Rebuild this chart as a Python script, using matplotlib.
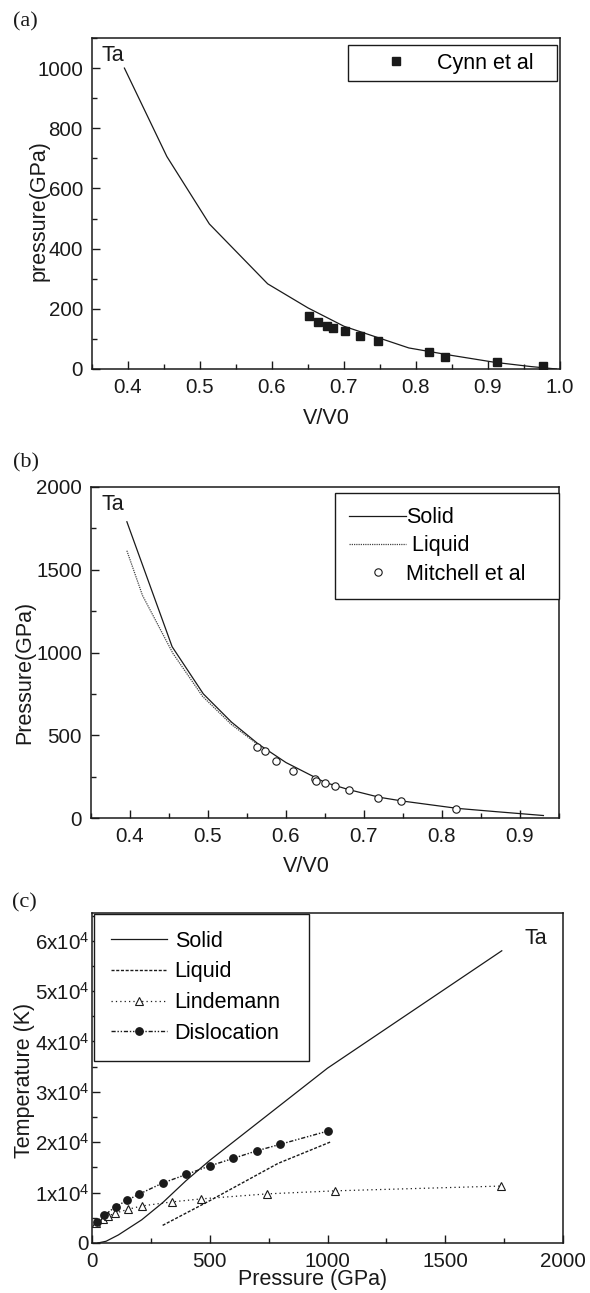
import matplotlib
matplotlib.use('Agg')
import matplotlib.pyplot as plt
from matplotlib.ticker import MultipleLocator, FixedLocator, FixedFormatter

# ---------------- data ----------------
# panel (a)
a_solid_v = [0.395, 0.454, 0.513, 0.594, 0.65, 0.70, 0.75, 0.79, 0.85, 0.91, 0.96, 0.995]
a_solid_p = [1000, 706, 482, 283, 203, 142, 102, 70, 45, 22, 8, 0]
a_cynn_v = [0.652, 0.6635, 0.676, 0.685, 0.7016, 0.722, 0.7477, 0.818, 0.840, 0.912, 0.976]
a_cynn_p = [175, 156, 144, 136, 125, 110, 94, 56, 40, 22, 9]

# panel (b)
b_solid_v = [0.396, 0.454, 0.494, 0.53, 0.565, 0.60, 0.65, 0.68, 0.72, 0.75, 0.82, 0.87, 0.93]
b_solid_p = [1790, 1035, 750, 580, 445, 335, 215, 172, 125, 102, 58, 38, 15]
b_liquid_v = [0.396, 0.416, 0.455, 0.493, 0.53, 0.565]
b_liquid_p = [1615, 1345, 995, 735, 565, 440]
b_mitch_v = [0.5634, 0.5725, 0.587, 0.6087, 0.6366, 0.638, 0.650, 0.6626, 0.6805, 0.7185, 0.7474, 0.818]
b_mitch_p = [428, 406, 347, 285, 237, 225, 211, 191, 168, 122, 101, 55]

# panel (c)
c_solid_P = [25, 60, 112, 211, 300, 400, 500, 1000, 1740]
c_solid_T = [0, 350, 1600, 4600, 8000, 12400, 16400, 34700, 58000]
c_liquid_P = [300, 500, 790, 1015]
c_liquid_T = [3500, 8400, 15800, 20100]
c_linde_P = [15, 45, 70, 97, 154, 211, 338, 462, 743, 1030, 1735]
c_linde_T = [3900, 4700, 5400, 5900, 6700, 7350, 8150, 8750, 9750, 10350, 11300]
c_disl_P = [20, 52, 100, 150, 200, 300, 400, 500, 600, 700, 800, 1000]
c_disl_T = [4200, 5500, 7200, 8500, 9700, 11900, 13600, 15300, 16800, 18300, 19600, 22200]

c_yticks = [0, 10000, 20000, 30000, 40000, 50000, 60000]
c_yticklabels = ['0'] + [r'$\mathregular{%dx10^{4}}$' % i for i in range(1, 7)]

# ---------------- style ----------------
plt.rcParams['font.family'] = ['Liberation Sans', 'DejaVu Sans']
plt.rcParams['mathtext.fontset'] = 'custom'
plt.rcParams['mathtext.rm'] = 'Liberation Sans'
plt.rcParams['mathtext.it'] = 'Liberation Sans:italic'

W, H = 590, 1293
fig = plt.figure(figsize=(W / 100, H / 100), dpi=100)

INK = '#1a1a1a'
TICK_FS = 14.8
LAB_FS = 15.5
LEG_FS = 15.5


def rect(l, r, t, b):
    return [l / W, 1 - b / H, (r - l) / W, (b - t) / H]


def ftext(x, y, s, **kw):
    fig.text(x / W, 1 - y / H, s, **kw)


def style(ax):
    for sp in ax.spines.values():
        sp.set_linewidth(1.1)
        sp.set_color(INK)
    ax.tick_params(which='both', direction='in', top=False, right=False,
                   labelsize=TICK_FS, colors=INK, width=1.0)
    ax.tick_params(which='major', length=6)
    ax.tick_params(which='minor', length=3.5)
    ax.tick_params(axis='x', pad=6.5)
    ax.tick_params(axis='y', pad=6.5)


def legend_at(ax, handles, labels, x0, top, width, **kw):
    return ax.legend(handles, labels, loc='upper left',
                     bbox_to_anchor=(x0 / W, 1 - top / H, width / W, 0.0001),
                     bbox_transform=fig.transFigure, mode='expand',
                     borderaxespad=0, fancybox=False, framealpha=1,
                     edgecolor=INK, fontsize=LEG_FS, numpoints=1, **kw)


# ---------------- panel (a) ----------------
axa = fig.add_axes(rect(92, 560, 38, 369))
style(axa)
la, = axa.plot(a_solid_v, a_solid_p, color=INK, lw=0.9)
ma, = axa.plot(a_cynn_v, a_cynn_p, 's', color=INK, ms=5.5, ls='none')
axa.set_xlim(0.35, 1.0)
axa.set_ylim(0, 1100)
axa.xaxis.set_minor_locator(MultipleLocator(0.05))
axa.yaxis.set_major_locator(MultipleLocator(200))
axa.yaxis.set_minor_locator(MultipleLocator(100))
axa.set_xticks([0.4, 0.5, 0.6, 0.7, 0.8, 0.9, 1.0])
axa.set_xticklabels(['0.4', '0.5', '0.6', '0.7', '0.8', '0.9', '1.0'])
legend_at(axa, [ma], ['Cynn et al'], 348, 45.5, 209,
          borderpad=0.35, handlelength=3.77, handletextpad=0.0)
ftext(101, 55.5, 'Ta', fontsize=LEG_FS, ha='left', va='center', color=INK)
ftext(39.5, 211, 'pressure(GPa)', fontsize=LAB_FS, rotation=90,
      ha='center', va='center', color=INK)
ftext(326, 418, 'V/V0', fontsize=LAB_FS, ha='center', va='center', color=INK)
ftext(25, 21.5, '(a)', fontsize=16, ha='center', va='center', color=INK,
      family='Liberation Serif')

# ---------------- panel (b) ----------------
axb = fig.add_axes(rect(91, 559, 487, 818))
style(axb)
lb1, = axb.plot(b_solid_v, b_solid_p, color=INK, lw=0.9)
lb2, = axb.plot(b_liquid_v, b_liquid_p, color='#444444', lw=0.9, ls=(0, (1, 0.8)))
mb, = axb.plot(b_mitch_v, b_mitch_p, 'o', mfc='white', mec=INK, mew=0.8,
               ms=5.3, ls='none')
axb.set_xlim(0.35, 0.95)
axb.set_ylim(0, 2000)
axb.xaxis.set_minor_locator(MultipleLocator(0.05))
axb.yaxis.set_major_locator(MultipleLocator(500))
axb.yaxis.set_minor_locator(MultipleLocator(250))
axb.set_xticks([0.4, 0.5, 0.6, 0.7, 0.8, 0.9])
axb.set_xticklabels(['0.4', '0.5', '0.6', '0.7', '0.8', '0.9'])
legend_at(axb, [lb1, lb2, mb], ['Solid', ' Liquid', 'Mitchell et al'], 335, 493, 224,
          borderpad=0.67, handlelength=2.65, handletextpad=0.0, labelspacing=0.33)
ftext(101, 505, 'Ta', fontsize=LEG_FS, ha='left', va='center', color=INK)
ftext(25, 672, 'Pressure(GPa)', fontsize=LAB_FS, rotation=90,
      ha='center', va='center', color=INK)
ftext(306, 866, 'V/V0', fontsize=LAB_FS, ha='center', va='center', color=INK)
ftext(25.5, 463, '(b)', fontsize=16, ha='center', va='center', color=INK,
      family='Liberation Serif')

# ---------------- panel (c) ----------------
axc = fig.add_axes(rect(92, 563, 913, 1243))
style(axc)
lc1, = axc.plot(c_solid_P, c_solid_T, color=INK, lw=0.9)
lc2, = axc.plot(c_liquid_P, c_liquid_T, color=INK, lw=1.0, ls=(0, (2.2, 1.2)))
lc3, = axc.plot(c_linde_P, c_linde_T, color=INK, lw=0.9, ls=(0, (1, 2.5)),
                marker='^', mfc='white', mec=INK, mew=0.8, ms=5.5)
lc4, = axc.plot(c_disl_P, c_disl_T, color=INK, lw=1.0,
                ls=(0, (3, 1.3, 1, 1.3, 1, 1.3)),
                marker='o', mfc=INK, mec=INK, ms=5.3)
axc.set_xlim(0, 2000)
axc.set_ylim(0, 65500)
axc.xaxis.set_major_locator(MultipleLocator(500))
axc.xaxis.set_minor_locator(MultipleLocator(250))
axc.yaxis.set_major_locator(FixedLocator(c_yticks))
axc.yaxis.set_major_formatter(FixedFormatter(c_yticklabels))
axc.yaxis.set_minor_locator(MultipleLocator(5000))
axc.tick_params(axis='y', pad=2)
legend_at(axc, [lc1, lc2, lc3, lc4], ['Solid', 'Liquid', 'Lindemann', 'Dislocation'],
          94, 914, 215, borderpad=0.78, handlelength=2.6, handletextpad=0.37,
          labelspacing=0.45)
ftext(536, 939, 'Ta', fontsize=LEG_FS, ha='center', va='center', color=INK)
ftext(25, 1080, 'Temperature (K)', fontsize=LAB_FS, rotation=90,
      ha='center', va='center', color=INK)
ftext(313, 1280, 'Pressure (GPa)', fontsize=LAB_FS, ha='center', va='center', color=INK)
ftext(24.5, 903, '(c)', fontsize=16, ha='center', va='center', color=INK,
      family='Liberation Serif')

fig.savefig('out.png', dpi=100)
